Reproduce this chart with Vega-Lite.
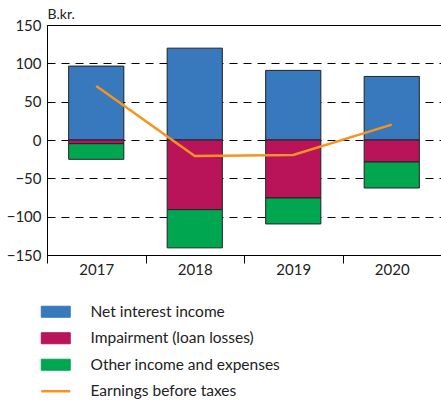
{
  "$schema": "https://vega.github.io/schema/vega-lite/v6.json",
  "autosize": "none",
  "width": 394,
  "height": 230,
  "padding": {"left": 47, "top": 25, "right": 0, "bottom": 145},
  "background": "white",
  "config": {
    "font": "Lato",
    "view": {"stroke": "black", "strokeWidth": 1},
    "axis": {"labelFont": "Lato", "labelColor": "#222", "labelFontSize": 15}
  },
  "datasets": {
    "bars": [
      {"year": "2017", "category": "Net interest income", "order": 1, "value": 96.4},
      {"year": "2017", "category": "Impairment (loan losses)", "order": 2, "value": -4.8},
      {"year": "2017", "category": "Other income and expenses", "order": 3, "value": -20.4},
      {"year": "2018", "category": "Net interest income", "order": 1, "value": 119.8},
      {"year": "2018", "category": "Impairment (loan losses)", "order": 2, "value": -90.8},
      {"year": "2018", "category": "Other income and expenses", "order": 3, "value": -49.9},
      {"year": "2019", "category": "Net interest income", "order": 1, "value": 90.8},
      {"year": "2019", "category": "Impairment (loan losses)", "order": 2, "value": -75.6},
      {"year": "2019", "category": "Other income and expenses", "order": 3, "value": -33.9},
      {"year": "2020", "category": "Net interest income", "order": 1, "value": 82.9},
      {"year": "2020", "category": "Impairment (loan losses)", "order": 2, "value": -28.7},
      {"year": "2020", "category": "Other income and expenses", "order": 3, "value": -33.9}
    ],
    "line": [
      {"year": "2017", "category": "Earnings before taxes", "value": 70.3},
      {"year": "2018", "category": "Earnings before taxes", "value": -20.8},
      {"year": "2019", "category": "Earnings before taxes", "value": -19.6},
      {"year": "2020", "category": "Earnings before taxes", "value": 20.0}
    ]
  },
  "encoding": {
    "x": {
      "field": "year", "type": "ordinal",
      "scale": {"paddingInner": 0, "paddingOuter": 0},
      "axis": {
        "title": null, "labelAngle": 0, "tickBand": "extent", "tickSize": 8,
        "tickColor": "black", "domainColor": "black", "labelPadding": -1
      }
    },
    "y": {
      "field": "value", "type": "quantitative",
      "scale": {"domain": [-150, 150], "nice": false},
      "axis": {
        "values": [-150, -100, -50, 0, 50, 100, 150],
        "title": "B.kr.", "titleAngle": 0, "titleX": 0, "titleY": -7,
        "titleAlign": "left", "titleBaseline": "alphabetic", "titleFont": "Lato",
        "titleFontSize": 14, "titleFontWeight": "normal", "titleColor": "#222",
        "ticks": false, "labelPadding": 6, "domainColor": "black",
        "grid": true, "gridColor": "black", "gridDash": [8, 6], "gridWidth": 1
      }
    },
    "color": {
      "field": "category", "type": "nominal",
      "scale": {
        "domain": ["Net interest income", "Impairment (loan losses)", "Other income and expenses", "Earnings before taxes"],
        "range": ["#3878bd", "#b9135a", "#00a650", "#f7941d"]
      },
      "legend": {
        "title": null, "orient": "none", "legendX": 1, "legendY": 279,
        "padding": 0, "symbolSize": 841, "labelFontSize": 15.5, "labelFont": "Lato",
        "labelColor": "#222", "labelOffset": 27, "rowPadding": 9.5, "labelLimit": 400,
        "encode": {
          "symbols": {
            "update": {
              "shape": {"signal": "datum.value === 'Earnings before taxes' ? 'stroke' : 'M-1,-0.38h2v0.76h-2z'"},
              "fill": {"signal": "datum.value === 'Earnings before taxes' ? 'transparent' : scale('color', datum.value)"},
              "stroke": {"signal": "datum.value === 'Earnings before taxes' ? '#f7941d' : '#222'"},
              "strokeWidth": {"signal": "datum.value === 'Earnings before taxes' ? 2.5 : 1"},
              "opacity": {"value": 1},
              "fillOpacity": {"value": 1}
            }
          }
        }
      }
    }
  },
  "layer": [
    {
      "data": {"name": "bars"},
      "mark": {"type": "bar", "width": {"band": 0.56}, "stroke": "#222", "strokeWidth": 1},
      "encoding": {
        "y": {"field": "value", "type": "quantitative", "stack": "zero"},
        "order": {"field": "order", "type": "quantitative"}
      }
    },
    {
      "data": {"name": "line"},
      "mark": {"type": "line", "strokeWidth": 2.5, "color": "#f7941d"},
      "encoding": {}
    }
  ]
}
